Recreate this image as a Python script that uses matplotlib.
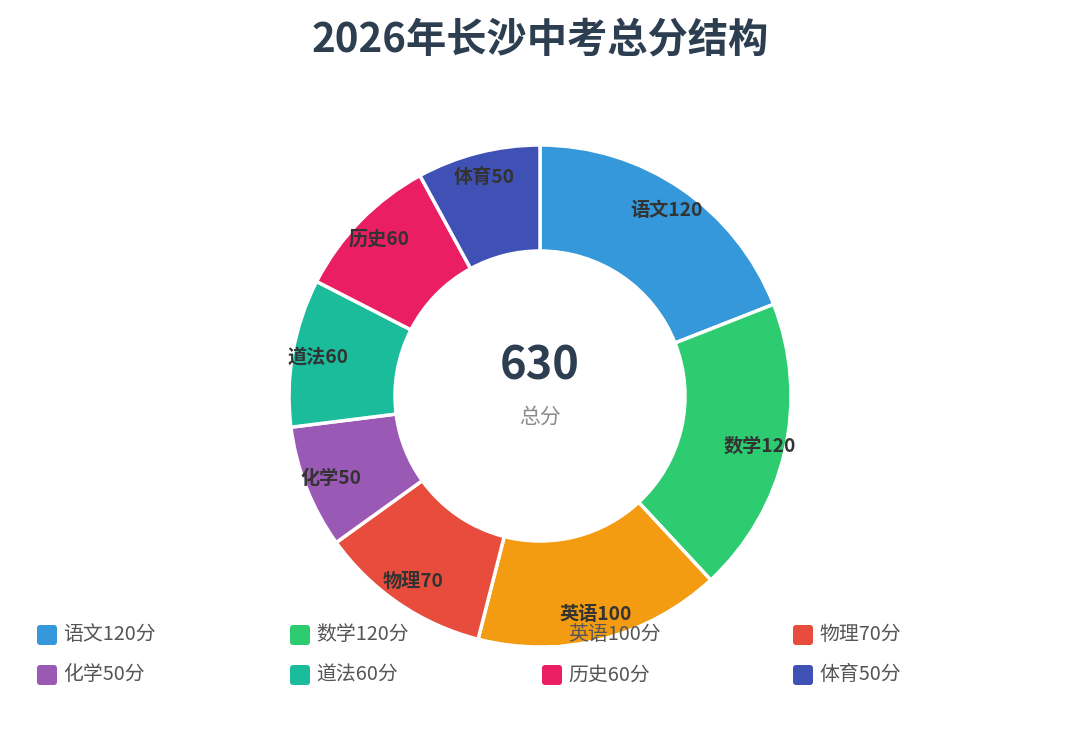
import matplotlib
matplotlib.use("Agg")
import matplotlib.pyplot as plt
from matplotlib.patches import FancyBboxPatch
import numpy as np

plt.rcParams['font.family'] = ['Noto Sans CJK SC', 'DejaVu Sans']

subjects = ["语文", "数学", "英语", "物理", "化学", "道法", "历史", "体育"]
scores = [120, 120, 100, 70, 50, 60, 60, 50]
colors = ["#3498db", "#2ecc71", "#f39c12", "#e74c3c", "#9b59b6", "#1abc9c", "#e91e63", "#3f51b5"]
title = "2026年长沙中考总分结构"
total_label = "总分"

W, H = 1080, 756
fig = plt.figure(figsize=(W / 100, H / 100), dpi=100)
ax = fig.add_axes([0, 0, 1, 1])

cx, cy = 540, H - 396
R, r_in = 251, 145

wedges, _ = ax.pie(scores, colors=colors, startangle=90, counterclock=False,
                   center=(cx, cy), radius=R, frame=True,
                   wedgeprops=dict(width=R - r_in, edgecolor='white', linewidth=2.5))
ax.set_xlim(0, W)
ax.set_ylim(0, H)
ax.set_aspect('equal')
ax.axis('off')

# wedge labels
lr = 225
for w, s, v in zip(wedges, subjects, scores):
    ang = np.deg2rad((w.theta1 + w.theta2) / 2)
    x = cx + lr * np.cos(ang)
    y = cy + lr * np.sin(ang)
    ax.text(x, y, f"{s}{v}", ha='center', va='center', fontsize=13.8,
            fontweight='bold', color='#333333', zorder=5)

# center text
ax.text(cx, H - 366, str(sum(scores)), ha='center', va='center', fontsize=32.5,
        fontweight='bold', color='#2c3e50', zorder=5)
ax.text(cx, H - 417, total_label, ha='center', va='center', fontsize=15,
        color='#8a8a8a', zorder=5)

# title
ax.text(W / 2, H - 40, title, ha='center', va='center', fontsize=29,
        fontweight='bold', color='#2c3e50')

# legend (row-major grid)
col_x = [37, 290, 542, 793]
row_y = [635, 675]
for i, (s, v, c) in enumerate(zip(subjects, scores, colors)):
    rr, cc = divmod(i, 4)
    x0 = col_x[cc]
    yc = H - row_y[rr]
    box = FancyBboxPatch((x0 + 2, yc - 8), 16, 16,
                         boxstyle="round,pad=2,rounding_size=3",
                         facecolor=c, edgecolor='none', zorder=6)
    ax.add_patch(box)
    ax.text(x0 + 26, yc, f"{s}{v}分", ha='left', va='center', fontsize=14.3,
            color='#555555', zorder=6)

fig.savefig("out.png", dpi=100, facecolor='white')
